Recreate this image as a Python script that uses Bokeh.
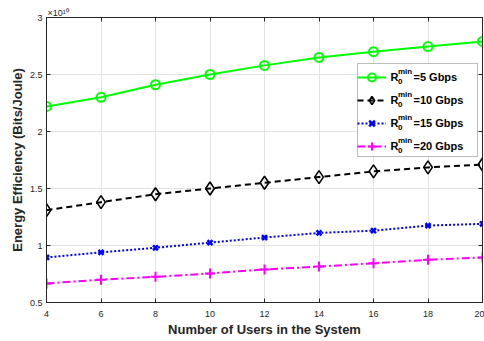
from bokeh.plotting import figure
from bokeh.models import Legend, LegendItem, LinearAxis, FixedTicker, Range1d, BoxAnnotation
from bokeh.core.properties import value
from bokeh.embed import file_html
from bokeh.resources import INLINE

users = [4, 6, 8, 10, 12, 14, 16, 18, 20]
ee_5 = [2.22, 2.30, 2.41, 2.50, 2.58, 2.65, 2.70, 2.745, 2.79]
ee_10 = [1.31, 1.38, 1.45, 1.50, 1.55, 1.60, 1.65, 1.685, 1.71]
ee_15 = [0.895, 0.94, 0.98, 1.025, 1.07, 1.11, 1.13, 1.175, 1.19]
ee_20 = [0.667, 0.70, 0.725, 0.755, 0.79, 0.815, 0.845, 0.875, 0.895]
series_names = ["=5 Gbps", "=10 Gbps", "=15 Gbps", "=20 Gbps"]
x_ticks = [4, 6, 8, 10, 12, 14, 16, 18, 20]
y_ticks = [0.5, 1, 1.5, 2, 2.5, 3]
y_tick_labels = ["0.5", "1", "1.5", "2", "2.5", "3"]

FONT = "Liberation Sans"
AX = "#262626"

# frame geometry (pixels) used to place legend box and texts
W, H = 484, 341
FL, FR, FT, FB = 46, 482, 17, 302
X0, X1, Y0, Y1 = 4, 20, 0.5, 3


def dx(px):
    return X0 + (px - FL) * (X1 - X0) / (FR - FL)


def dy(py):
    return Y0 + (FB - py) * (Y1 - Y0) / (FB - FT)


p = figure(width=W, height=H, output_backend="svg", toolbar_location=None,
           x_range=Range1d(X0, X1), y_range=Range1d(Y0, Y1),
           min_border_left=FL, min_border_right=W - FR, min_border_top=FT, min_border_bottom=H - FB)
p.outline_line_color = AX
p.background_fill_color = "white"

p.title.text = "×10¹⁰"
p.title.align = "left"
p.title.text_font = FONT
p.title.text_font_size = "9px"
p.title.text_font_style = "normal"
p.title.text_color = AX
p.title.standoff = 0
p.title.offset = 1

for ax in (p.xaxis[0], p.yaxis[0]):
    ax.major_tick_in = 4
    ax.major_tick_out = 0
    ax.minor_tick_line_color = None
    ax.axis_line_color = AX
    ax.major_tick_line_color = AX
    ax.major_label_text_color = AX
    ax.major_label_text_font = FONT
    ax.major_label_text_font_size = "9px"
    ax.axis_label_text_font = FONT
    ax.axis_label_text_font_size = "13px"
    ax.axis_label_text_font_style = "bold"
    ax.axis_label_text_color = AX

p.xaxis[0].ticker = FixedTicker(ticks=x_ticks)
p.yaxis[0].ticker = FixedTicker(ticks=y_ticks)
p.yaxis[0].major_label_overrides = {t: l for t, l in zip(y_ticks, y_tick_labels)}
p.xaxis[0].axis_label = "Number of Users in the System"
p.yaxis[0].axis_label = "Energy Efficiency (Bits/Joule)"
p.xaxis[0].major_label_standoff = 8
p.yaxis[0].major_label_standoff = 4
p.xaxis[0].axis_label_standoff = 2
p.yaxis[0].axis_label_standoff = 2

top = LinearAxis(ticker=FixedTicker(ticks=x_ticks), major_tick_in=4, major_tick_out=0,
                 minor_tick_line_color=None, major_label_text_font_size="0px",
                 major_label_standoff=0, axis_line_color=AX, major_tick_line_color=AX)
right = LinearAxis(ticker=FixedTicker(ticks=y_ticks), major_tick_in=4, major_tick_out=0,
                   minor_tick_line_color=None, major_label_text_font_size="0px",
                   major_label_standoff=0, axis_line_color=AX, major_tick_line_color=AX)
p.add_layout(top, "above")
p.add_layout(right, "right")

p.xgrid.ticker = FixedTicker(ticks=x_ticks)
p.ygrid.ticker = FixedTicker(ticks=y_ticks)
p.grid.grid_line_color = "#e3e3e3"
p.grid.grid_line_width = 1

# legend background box (white, covers grid lines)
p.add_layout(BoxAnnotation(left=dx(357), right=dx(477), top=dy(63), bottom=dy(156),
                           fill_color="white", fill_alpha=1, line_color=AX, line_width=1,
                           level="underlay", editable=False))

l1 = p.line(users, ee_5, line_color="#00ff00", line_width=2)
m1 = p.scatter(users, ee_5, marker="circle", size=9, line_color="#00ff00", line_width=2, fill_alpha=0)
l2 = p.line(users, ee_10, line_color="black", line_width=2, line_dash="6 4")
m2 = p.scatter(users, ee_10, marker="diamond", size=13, line_color="black", line_width=1.6, fill_alpha=0)
l3 = p.line(users, ee_15, line_color="#0000ff", line_width=2, line_dash="2 2")
m3 = p.scatter(users, ee_15, marker="x", size=7, line_color="#0000ff", line_width=2.5)
l4 = p.line(users, ee_20, line_color="#ff00ff", line_width=2, line_dash="8 3 2 3")
m4 = p.scatter(users, ee_20, marker="cross", size=10, line_color="#ff00ff", line_width=2)

items = [LegendItem(label=" ", renderers=[l, m]) for l, m in ((l1, m1), (l2, m2), (l3, m3), (l4, m4))]
legend = Legend(items=items, location=(311, 146), glyph_width=29, glyph_height=20,
                label_width=83, label_height=20, spacing=3, padding=2, label_standoff=2, margin=0,
                label_text_font_size="1px", border_line_color=None,
                background_fill_alpha=0)
p.add_layout(legend, "center")

# legend label texts (R with sub/superscript)
row_py = [76.5, 99.5, 122.5, 145.5]
n = len(series_names)
p.text([dx(390)] * n, [dy(r) for r in row_py], text=["R"] * n,
       text_font=value(FONT), text_font_size="11px", text_font_style="bold",
       text_align="left", text_baseline="middle", text_color="black")
p.text([dx(397.5)] * n, [dy(r - 5.5) for r in row_py], text=["min"] * n,
       text_font=value(FONT), text_font_size="8px", text_font_style="bold",
       text_align="left", text_baseline="middle", text_color="black")
p.text([dx(397.5)] * n, [dy(r + 4.5) for r in row_py], text=["0"] * n,
       text_font=value(FONT), text_font_size="8px", text_font_style="bold",
       text_align="left", text_baseline="middle", text_color="black")
p.text([dx(413)] * n, [dy(r) for r in row_py], text=series_names,
       text_font=value(FONT), text_font_size="11px", text_font_style="bold",
       text_align="left", text_baseline="middle", text_color="black")

open("out.html", "w").write(file_html(p, INLINE))
